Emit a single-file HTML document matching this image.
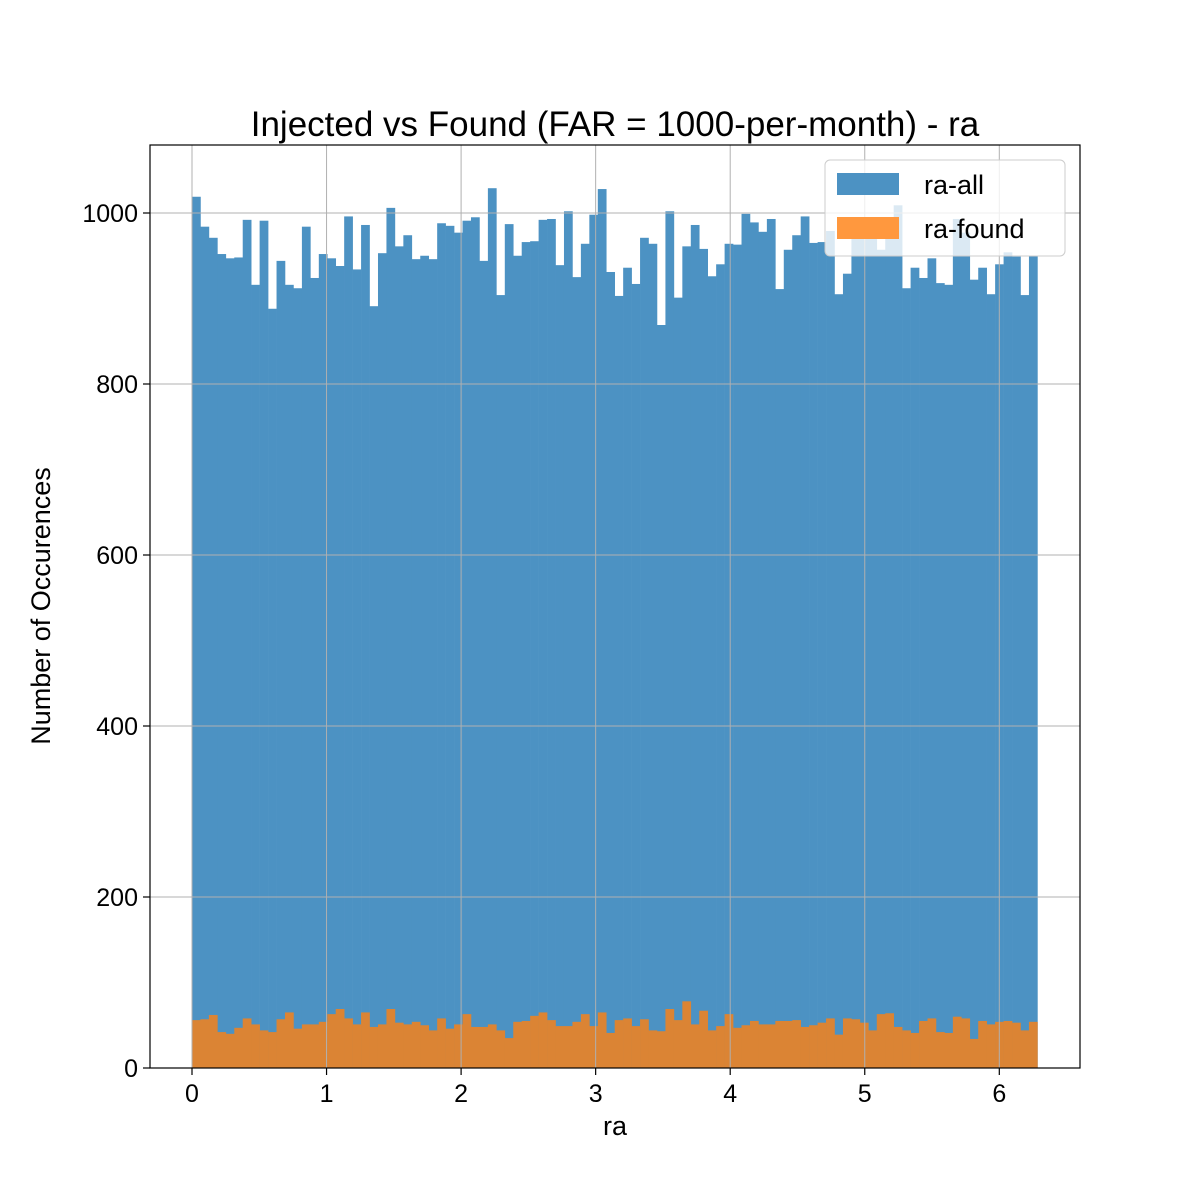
<!DOCTYPE html>
<html><head><meta charset="utf-8"><style>body{margin:0;background:#fff}svg{display:block;font-family:"Liberation Sans","DejaVu Sans",sans-serif}</style></head>
<body>
<svg id="chart" width="1200" height="1200" viewBox="0 0 1200 1200">
<rect width="1200" height="1200" fill="#fff"/>
<g id="bars"></g>
<g id="grid"></g>
<rect x="150" y="145" width="930" height="923" fill="none" stroke="#000" stroke-width="1.2"/>
<g id="ticks"></g>
<text x="615" y="136" font-size="35" text-anchor="middle">Injected vs Found (FAR = 1000-per-month) - ra</text>
<text x="615" y="1135" font-size="27" text-anchor="middle">ra</text>
<text transform="translate(50,606) rotate(-90)" font-size="27" text-anchor="middle">Number of Occurences</text>
<g>
<rect x="825" y="160" width="240" height="96" rx="5" fill="#fff" fill-opacity="0.8" stroke="#ccc"/>
<rect x="837" y="173" width="62" height="22" fill="#4c92c3"/>
<text x="924" y="194" font-size="27">ra-all</text>
<rect x="837" y="217" width="62" height="22" fill="#ff983e"/>
<text x="924" y="238" font-size="27">ra-found</text>
</g>
</svg>
<script>
const allCounts=[1019,984,971,952,947,948,992,916,991,888,944,916,912,984,924,952,947,938,996,934,986,891,953,1006,961,974,946,950,946,988,985,977,991,995,944,1029,904,987,950,966,967,992,993,939,1002,925,964,998,1028,931,903,936,917,971,964,869,1002,901,961,986,958,926,940,964,963,999,989,978,993,911,957,974,996,965,966,979,905,929,978,984,984,957,984,1009,912,936,924,947,918,916,993,977,922,936,905,940,954,949,904,950];
const foundCounts=[56,57,62,42,40,47,58,51,44,42,57,65,46,51,51,54,63,69,58,51,65,48,51,69,53,51,54,50,44,58,46,51,63,48,48,51,44,35,54,55,61,65,56,49,49,54,63,49,65,41,56,58,49,57,44,43,69,56,78,51,67,44,49,63,47,50,55,51,51,55,55,56,48,50,53,58,39,58,57,53,44,63,64,48,44,41,55,58,42,41,60,58,34,55,51,54,55,53,44,54];
const xTicks=[0,1,2,3,4,5,6];
const yTicks=[0,200,400,600,800,1000];
const xMin=0,xMax=2*Math.PI;
const NS="http://www.w3.org/2000/svg";
function sx(v){return 192+v*134.55;}
function sy(v){return 1068-v*0.855;}
function mk(tag,attrs,parent){const e=document.createElementNS(NS,tag);for(const k in attrs)e.setAttribute(k,attrs[k]);parent.appendChild(e);return e;}
const bars=document.getElementById('bars'),grid=document.getElementById('grid'),ticks=document.getElementById('ticks');
const bw=(xMax-xMin)/allCounts.length;
allCounts.forEach((c,i)=>{const x0=sx(xMin+i*bw),x1=sx(xMin+(i+1)*bw);
const r=mk('rect',{x:x0,y:sy(c),width:x1-x0+0.3,height:sy(0)-sy(c),fill:'#4c92c3'},bars);

});
foundCounts.forEach((c,i)=>{const x0=sx(xMin+i*bw),x1=sx(xMin+(i+1)*bw);
const r=mk('rect',{x:x0,y:sy(c),width:x1-x0+0.3,height:sy(0)-sy(c),fill:'#db8434'},bars);

});
xTicks.forEach(t=>{const x=sx(t);
const g=mk('line',{x1:x,x2:x,y1:145,y2:1068,stroke:'#b0b0b0','stroke-width':1},grid);


mk('line',{x1:x,x2:x,y1:1068,y2:1075,stroke:'#000','stroke-width':1.2},ticks);
const tx=mk('text',{x:x,y:1102,'font-size':'25','text-anchor':'middle'},ticks);tx.textContent=t;

});
yTicks.forEach(t=>{const y=sy(t);
const g=mk('line',{x1:150,x2:1080,y1:y,y2:y,stroke:'#b0b0b0','stroke-width':1},grid);


mk('line',{x1:143,x2:150,y1:y,y2:y,stroke:'#000','stroke-width':1.2},ticks);
const tx=mk('text',{x:138,y:y+9,'font-size':'25','text-anchor':'end'},ticks);tx.textContent=t;

});
</script>
</body></html>
